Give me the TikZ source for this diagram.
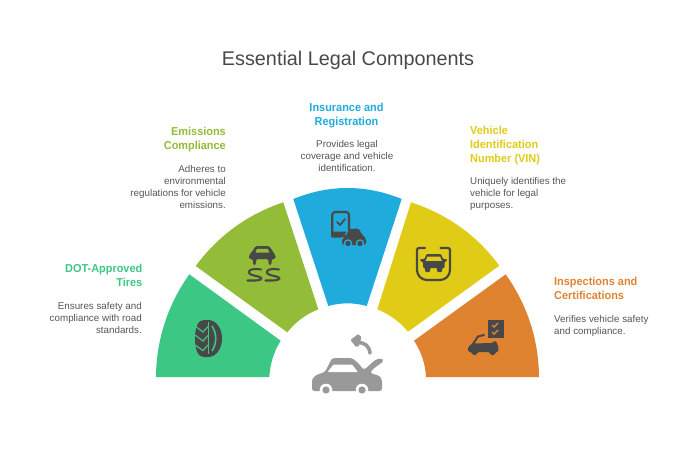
\documentclass[tikz,border=0pt]{standalone}
\usepackage{fontspec}
\setmainfont[BoldFeatures={FakeStretch=0.95}]{Liberation Sans}
\definecolor{cgreen}{HTML}{3DC784}
\definecolor{colive}{HTML}{93BC38}
\definecolor{cblue}{HTML}{1FACDC}
\definecolor{cyellow}{HTML}{E0CC16}
\definecolor{corange}{HTML}{E08330}
\definecolor{cdark}{HTML}{484848}
\definecolor{cgray}{HTML}{999999}
\definecolor{ctext}{HTML}{555555}
\usetikzlibrary{calc}
\newcommand{\segm}[7]{\fill[#1] #2 .. controls ($#2!0.667!#3$) and ($#4!0.667!#3$) .. #4 -- #5 .. controls ($#5!0.667!#6$) and ($#7!0.667!#6$) .. #7 -- cycle;}
\tikzset{
 head/.style={font=\bfseries\fontsize{11.5}{14}\selectfont,inner sep=0pt,align=#1},
 body/.style={font=\fontsize{9.8}{12}\selectfont,text=ctext,inner sep=0pt,align=#1},
 dk/.style={cdark,line width=#1,line cap=round,line join=round}
}
\begin{document}
\begin{tikzpicture}[x=1pt,y=-1pt]
\useasboundingbox (0,0) rectangle (696,450);
\node[font=\fontsize{19.8}{22}\selectfont,text=cdark,inner sep=0pt] (title) at (348,60) {Essential Legal Components};
\segm{cgreen}{(156,377)}{(156.5,321)}{(189.3,274.3)}{(280.7,340.7)}{(270.4,357.4)}{(269.3,377)}
\segm{colive}{(195.7,266)}{(229.5,220.4)}{(283.3,202.3)}{(318.3,309.3)}{(299.8,316.7)}{(287.3,332.3)}
\segm{cblue}{(293.3,199)}{(347.5,177)}{(401.7,199)}{(366.7,306)}{(347.5,300.7)}{(328.3,306)}
\segm{cyellow}{(411,202.3)}{(466,220.4)}{(499.3,265.7)}{(408,331.7)}{(395.6,316.7)}{(377.3,309.3)}
\segm{corange}{(505.7,274.3)}{(538.5,321)}{(539,377)}{(426,377)}{(425,357.4)}{(414,340.7)}
% labels
\node[head=right,text=cgreen,anchor=north east] (h1) at (142.5,264) {DOT-Approved\\Tires};
\node[body=right,anchor=north east] (b1) at (142,302.5) {Ensures safety and\\compliance with road\\standards.};
\node[head=right,text=colive,anchor=north east] (h2) at (226,126.5) {Emissions\\Compliance};
\node[body=right,anchor=north east] (b2) at (226,165) {Adheres to\\environmental\\regulations for vehicle\\emissions.};
\node[head=center,text=cblue] (h3) at (346.5,116) {Insurance and\\Registration};
\node[body=center] (b3) at (347,156) {Provides legal\\coverage and vehicle\\identification.};
\node[head=left,text=cyellow,anchor=north west] (h4) at (470,125.5) {Vehicle\\Identification\\Number (VIN)};
\node[body=left,anchor=north west] (b4) at (470,177.5) {Uniquely identifies the\\vehicle for legal\\purposes.};
\node[head=left,text=corange,anchor=north west] (h5) at (554,276.5) {Inspections and\\Certifications};
\node[body=left,anchor=north west] (b5) at (554,315.5) {Verifies vehicle safety\\and compliance.};
% centre car
\fill[cgray,rounded corners=2.5pt] (312,391) -- (312,379) -- (316,375) -- (325,372) -- (331,360) -- (333,358) -- (352,358) -- (358,363) -- (364,370) -- (375,360) -- (381,358) -- (384,361) -- (373,369) -- (370,373) -- (380,376) -- (382,380) -- (382,391) -- cycle;
\fill[white,rounded corners=1pt] (327.5,372) -- (333.5,364.5) -- (352,364.5) -- (358,372) -- cycle;
\fill[white] (326,390) circle (6.3) (362,390) circle (6.3);
\fill[cgray] (326,390) circle (3.6) (362,390) circle (3.6);
\draw[cgray,line width=3.6pt,line cap=round] (370,353) .. controls (369,345) and (364,343) .. (359,342.5);
\fill[cgray,rounded corners=1pt] (350.5,340) -- (358,334) -- (361.5,337) -- (359,346) -- (356,347) -- cycle;
% tire
\fill[cdark] (204,320) .. controls (198,320) and (195,327) .. (195,338.5) .. controls (195,350) and (198,357) .. (204,357) -- (208,357) .. controls (216,357) and (222,349) .. (222,338.5) .. controls (222,328) and (216,320) .. (208,320) -- cycle;
\draw[cgreen,line width=1.6pt] (212,326) .. controls (217,334) and (217,343) .. (212,351);
\draw[cgreen,line width=1.2pt] (195,326) -- (203,332) -- (208,326.5);
\draw[cgreen,line width=1.2pt] (195,335) -- (203,341) -- (208,335.5);
\draw[cgreen,line width=1.2pt] (195,345) -- (203,350.5) -- (208,345);
\draw[cgreen,line width=1.1pt] (208.5,322) -- (208.5,354);
% olive car
\fill[cdark,rounded corners=2pt] (249,259) -- (249,254.5) -- (253,251) -- (255,246) -- (270,246) -- (272,251) -- (275.5,254.5) -- (275.5,259) -- (271.5,259) -- (271.5,265) -- (268.5,265) -- (268.5,259) -- (256,259) -- (256,265) -- (253,265) -- (253,259) -- cycle;
\fill[colive] (255.5,252.5) -- (257,248.8) -- (267.8,248.8) -- (269.3,252.5) -- cycle;
\draw[dk=2.1pt] (261,269.5) .. controls (252,268) and (248,270) .. (249,273) .. controls (250,276) and (262,276) .. (261.5,278.5) .. controls (261,281) and (252,280.5) .. (247.5,280.5);
\draw[dk=2.1pt] (279,269.5) .. controls (270,268) and (266,270) .. (267,273) .. controls (268,276) and (280,276) .. (279.5,278.5) .. controls (279,281) and (270,280.5) .. (265.5,280.5);
% blue icon
\draw[dk=2.2pt,rounded corners=3pt] (345,236) -- (332.2,236) -- (332.2,212) -- (349,212) -- (349,230);
\fill[cdark,rounded corners=1pt] (331.2,231.5) -- (347,231.5) -- (342,237.5) -- (331.2,237.5) -- cycle;
\draw[dk=1.7pt] (337,222) -- (340,225) -- (345,219);
\fill[cdark,rounded corners=2.5pt] (342,245) -- (342,239) -- (346,236) -- (349,229) -- (359,228.5) -- (362,235) -- (366,238) -- (366,245) -- cycle;
\fill[cblue] (348,243.5) circle (4.3) (360,243.5) circle (4.3);
\fill[cdark] (348,243.5) circle (2.7) (360,243.5) circle (2.7);
% yellow icon
\draw[dk=2.2pt,rounded corners=2pt] (425,248) -- (417,248) -- (417,262);
\draw[dk=2.2pt,rounded corners=2pt] (440.5,248) -- (450,248) -- (450,262);
\draw[dk=2.2pt,rounded corners=10pt] (417,262) -- (417,280) -- (450,280) -- (450,262);
\fill[cdark,rounded corners=1pt] (420,259) -- (424.5,259) -- (426.5,254) -- (441,254) -- (443,259) -- (447,259) -- (447,261) -- (444.5,262) -- (444.5,268) -- (442,268) -- (442,272) -- (437,272) -- (437,268) -- (430,268) -- (430,272) -- (425,272) -- (425,268) -- (423,268) -- (423,262) -- (420,261) -- cycle;
\fill[cyellow] (425.7,260.8) -- (427.5,256.5) -- (440,256.5) -- (441.8,260.8) -- cycle;
% orange icon
\fill[cdark] (488,320) rectangle (503.5,338);
\draw[corange,line width=1.4pt] (492,325) -- (494,327) -- (498,323);
\draw[corange,line width=1.4pt] (492,332) -- (494,334) -- (498,330);
\draw[dk=2pt] (473,344) -- (478,336.5) -- (484,335);
\fill[cdark,rounded corners=1.5pt] (468,352) -- (468,347) -- (472,343.5) -- (493,343) -- (495,340) -- (498,345) -- (498.5,352) -- (495,352) -- (495,355) -- (490,355) -- (490,352) -- (477,352) -- (477,355) -- (472,355) -- (472,352) -- cycle;
\end{tikzpicture}
\end{document}
